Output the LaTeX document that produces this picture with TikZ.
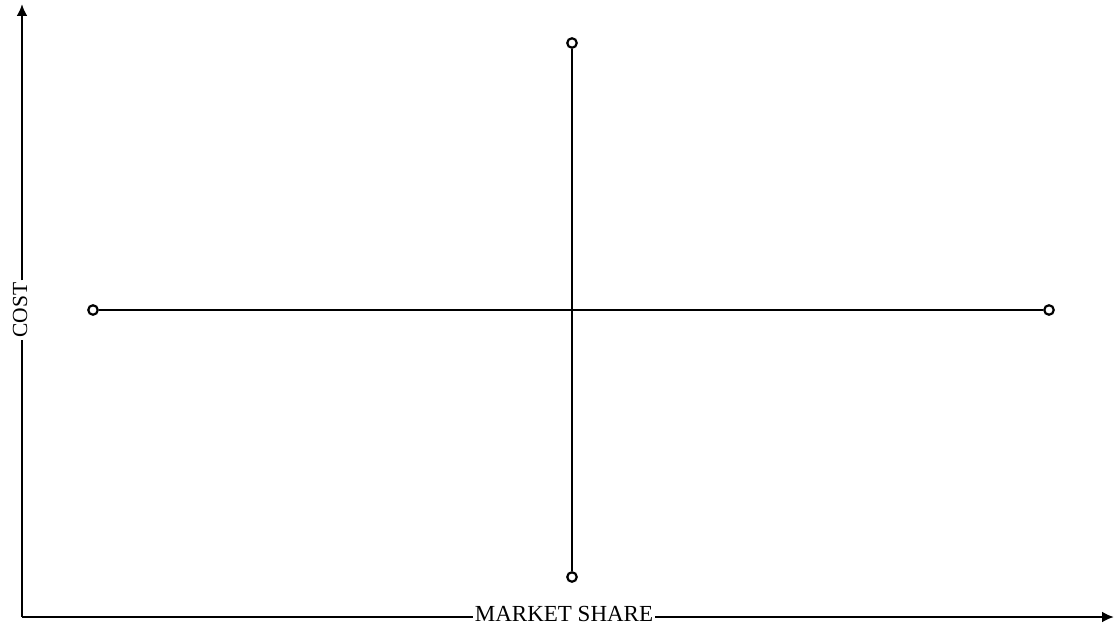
\documentclass[tikz,border=0pt]{standalone}
\usepackage{fontspec}
\setmainfont{Liberation Serif}
\usetikzlibrary{arrows.meta}
\begin{document}
\begin{tikzpicture}[x=1pt,y=-1pt,
  axis/.style={line width=2.4pt},
  cross/.style={line width=2.6pt},
  tip/.style={-{Latex[length=12pt,width=11pt]}},
  endpt/.style={circle,draw,line width=2.2pt,fill=white,minimum size=9.5pt,inner sep=0pt},
  lbl/.style={inner sep=2pt}]
\useasboundingbox (0,0) rectangle (1114,626);
\coordinate (O) at (22,617);
\coordinate (ytop) at (22,4);
\coordinate (xend) at (1114,617);
\node[lbl,rotate=90,font=\fontsize{21.5}{24}\selectfont] (cost) at (20,310) {COST};
\node[lbl,font=\fontsize{23}{26}\selectfont] (ms) at (564,614) {MARKET SHARE};
\draw[axis] (O) -- (O |- cost.west);
\draw[axis,tip] (O |- cost.east) -- (ytop);
\draw[axis] (O) -- (O -| ms.west);
\draw[axis,tip] (O -| ms.east) -- (xend);
\node[endpt] (top) at (572,43) {};
\node[endpt] (bot) at (572,577) {};
\node[endpt] (lft) at (93,310) {};
\node[endpt] (rgt) at (1049,310) {};
\draw[cross] (top) -- (bot);
\draw[cross] (lft) -- (rgt);
\end{tikzpicture}
\end{document}
